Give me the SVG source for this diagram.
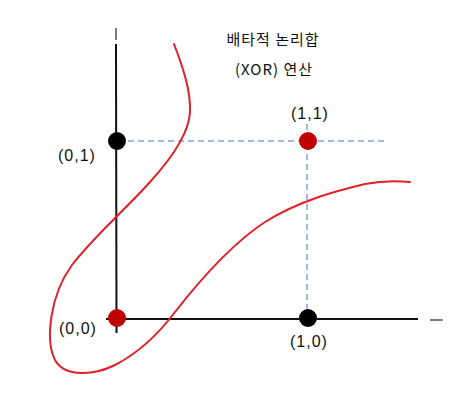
<svg xmlns="http://www.w3.org/2000/svg" width="460" height="400" viewBox="0 0 460 400">
<style>
.axis{stroke:#111;stroke-width:2;fill:none}
.axdash{stroke:#555;stroke-width:1.5;fill:none}
.guide{stroke:#4472c4;stroke-width:1;stroke-dasharray:6,4;fill:none}
.curve{stroke:#e0202a;stroke-width:2;fill:none;stroke-linecap:round}
.lbl{font-family:"Liberation Sans","Noto Sans CJK KR",sans-serif;font-size:16px;fill:#111;letter-spacing:1px}
.title{font-family:"Noto Sans CJK KR","Liberation Sans",sans-serif;font-size:15px;fill:#111;text-anchor:middle;letter-spacing:1px}
.blk{fill:#000}
.red{fill:#c00000}
</style>
<rect width="460" height="400" fill="#fff"/>
<g id="title">
<text class="title" x="273" y="45">배타적 논리합</text>
<text class="title" x="274" y="75">(XOR) 연산</text>
</g>
<g id="connectors">
<line class="axdash" x1="116" y1="28" x2="116" y2="40"/>
<line class="axis" x1="116" y1="44" x2="116.5" y2="333"/>
<line class="axis" x1="106" y1="319" x2="418" y2="319"/>
<line class="axdash" x1="430" y1="320" x2="443" y2="320"/>
<line class="guide" x1="128" y1="141" x2="386" y2="141"/>
<line class="guide" x1="307" y1="124" x2="307" y2="310"/>
<path class="curve" d="M174,44 C182,65 191,90 190,112 C189,135 170,160 150,182 C125,210 95,235 72,265 C50,295 45,340 55,360 C65,378 95,375 115,365 C140,352 160,332 175,312 C200,280 230,245 265,222 C300,200 340,190 365,184 C385,180 400,181 410,182"/>
</g>
<g id="n01">
<circle class="blk" cx="117" cy="141" r="9"/>
<text class="lbl" x="58" y="161">(0,1)</text>
</g>
<g id="n11">
<circle class="red" cx="308" cy="141" r="9"/>
<text class="lbl" x="291" y="119">(1,1)</text>
</g>
<g id="n00">
<circle class="red" cx="117" cy="318" r="9"/>
<text class="lbl" x="59" y="334">(0,0)</text>
</g>
<g id="n10">
<circle class="blk" cx="308" cy="318" r="9"/>
<text class="lbl" x="290" y="347">(1,0)</text>
</g>
</svg>
